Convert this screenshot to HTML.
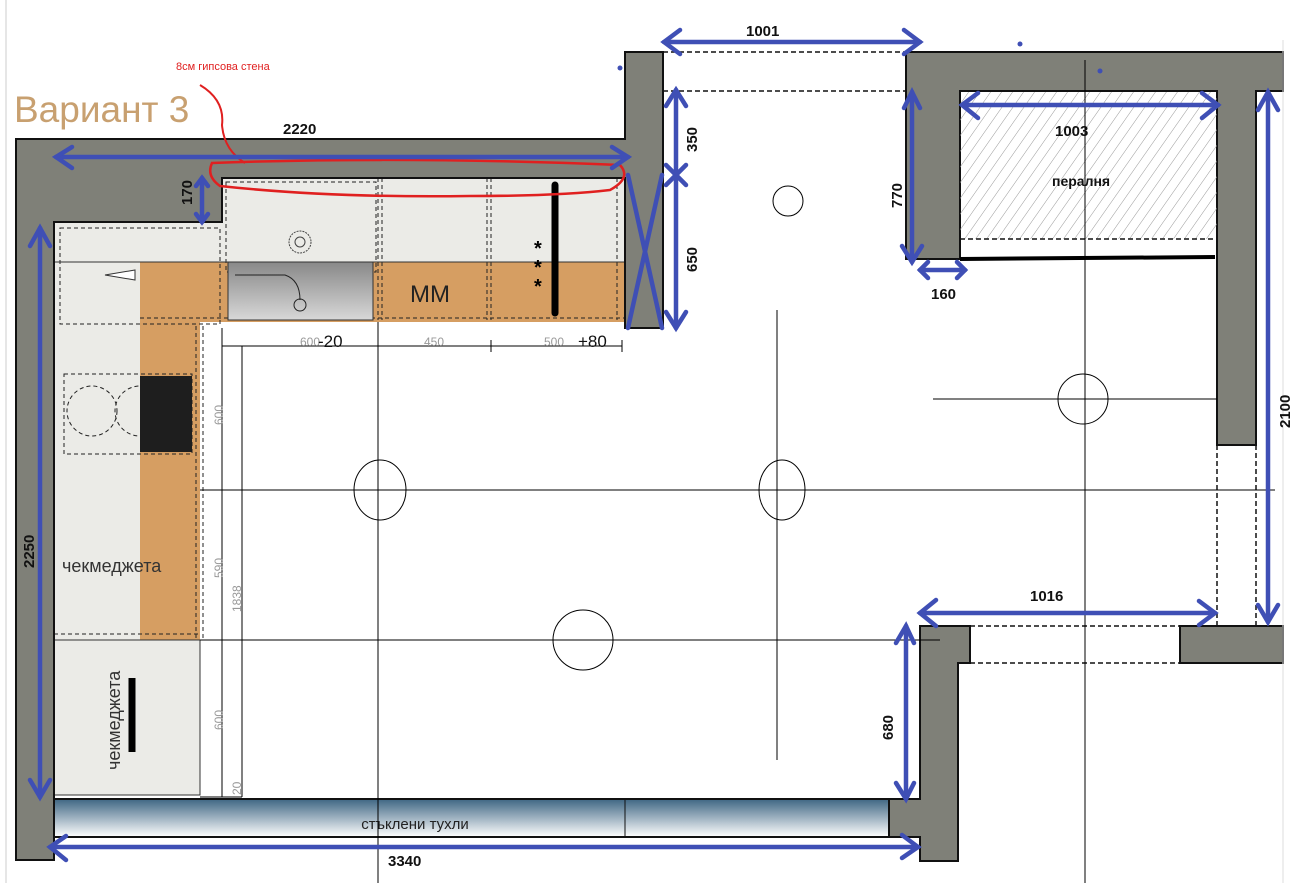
<!DOCTYPE html>
<html><head><meta charset="utf-8"><style>
body{margin:0;background:#fff;width:1295px;height:883px;overflow:hidden}
svg{display:block}
text{font-family:"Liberation Sans","DejaVu Sans",sans-serif}
</style></head><body>
<svg width="1295" height="883" viewBox="0 0 1295 883" xmlns="http://www.w3.org/2000/svg">
<defs>
<pattern id="h" width="9" height="9" patternUnits="userSpaceOnUse" patternTransform="rotate(35)"><line x1="0" y1="0" x2="0" y2="9" stroke="#999" stroke-width="1"/></pattern>
<linearGradient id="g" x1="0" y1="0" x2="0" y2="1"><stop offset="0" stop-color="#3e6683"/><stop offset="1" stop-color="#ffffff"/></linearGradient>
<linearGradient id="s" x1="0" y1="0" x2="0" y2="1"><stop offset="0" stop-color="#888"/><stop offset="1" stop-color="#d8d8d8"/></linearGradient>
</defs>
<line x1="6" y1="0" x2="6" y2="883" stroke="#ccc"/>
<rect x="222" y="178" width="403" height="84" fill="#ebebe7"/>
<rect x="54" y="222" width="168" height="40" fill="#ebebe7"/>
<rect x="54" y="262" width="86" height="378" fill="#ebebe7"/>
<rect x="140" y="262" width="485" height="60" fill="#d69e62"/>
<rect x="140" y="322" width="60" height="318" fill="#d69e62"/>
<rect x="54" y="640" width="146" height="155" fill="#ebebe7" stroke="#333" stroke-width="1"/>
<g fill="none" stroke="#222" stroke-width="1" stroke-dasharray="4,3">
<rect x="60" y="228" width="160" height="96"/><rect x="226" y="182" width="150" height="90"/>
<line x1="378" y1="178" x2="378" y2="320"/><line x1="382" y1="178" x2="382" y2="320"/>
<line x1="487" y1="178" x2="487" y2="320"/><line x1="491" y1="178" x2="491" y2="320"/>
<line x1="617" y1="178" x2="617" y2="320"/><line x1="140" y1="318" x2="625" y2="318"/>
<line x1="196" y1="326" x2="196" y2="640"/><line x1="203" y1="326" x2="203" y2="640"/>
<line x1="54" y1="634" x2="200" y2="634"/>
<rect x="64" y="374" width="128" height="80"/>
<circle cx="92" cy="411" r="25"/><circle cx="140" cy="411" r="25"/>
</g>
<line x1="54" y1="262" x2="625" y2="262" stroke="#333"/>
<line x1="54" y1="640" x2="222" y2="640" stroke="#333"/>
<rect x="228" y="262" width="145" height="58" fill="url(#s)" stroke="#333"/>
<path d="M235 275 H285 Q300 280 300 300" fill="none" stroke="#222"/><circle cx="300" cy="305" r="6" fill="none" stroke="#222"/>
<circle cx="300" cy="242" r="11" fill="none" stroke="#444" stroke-dasharray="2,1"/><circle cx="300" cy="242" r="5" fill="none" stroke="#444"/>
<rect x="140" y="376" width="52" height="76" fill="#1e1e1e"/>
<path d="M105 275 L135 270 L135 280 Z" fill="#fff" stroke="#333"/>
<g fill="#7f8078" stroke="#111" stroke-width="2">
<path d="M16 139 H625 V52 H663 V328 H625 V178 H222 V222 H54 V860 H16 Z"/>
<path d="M906 52 H1283 V91 H1256 V445 H1217 V91 H960 V259 H906 Z"/>
<path d="M920 626 H970 V663 H958 V861 H920 V837 H889 V799 H920 Z"/>
<rect x="1180" y="626" width="103" height="37"/>
</g>
<rect x="960" y="92" width="257" height="147" fill="url(#h)"/>
<g stroke="#111" stroke-width="1.5" stroke-dasharray="5,3" fill="none">
<line x1="663" y1="52" x2="906" y2="52"/><line x1="663" y1="91" x2="906" y2="91"/>
<line x1="960" y1="239" x2="1217" y2="239"/>
<line x1="970" y1="626" x2="1180" y2="626"/><line x1="970" y1="663" x2="1180" y2="663"/>
<line x1="1217" y1="445" x2="1217" y2="626"/><line x1="1256" y1="445" x2="1256" y2="626"/>
<line x1="625" y1="799" x2="889" y2="799"/><line x1="625" y1="837" x2="889" y2="837"/>
</g>
<line x1="960" y1="259" x2="1215" y2="257" stroke="#000" stroke-width="4"/>
<line x1="1283" y1="40" x2="1283" y2="883" stroke="#ddd"/>
<rect x="54" y="799" width="835" height="38" fill="url(#g)" stroke="#111" stroke-width="2"/>
<line x1="625" y1="799" x2="625" y2="837" stroke="#111"/>
<text x="415" y="829" font-size="15" text-anchor="middle" fill="#222">стъклени тухли</text>
<g stroke="#000" stroke-width="1" fill="none">
<line x1="378" y1="322" x2="378" y2="883"/><line x1="777" y1="310" x2="777" y2="760"/>
<line x1="1085" y1="60" x2="1085" y2="883"/>
<line x1="200" y1="490" x2="1275" y2="490"/><line x1="933" y1="399" x2="1217" y2="399"/>
<line x1="200" y1="640" x2="940" y2="640"/>
<ellipse cx="380" cy="490" rx="26" ry="30"/><ellipse cx="782" cy="490" rx="23" ry="30"/>
<ellipse cx="583" cy="640" rx="30" ry="30"/><ellipse cx="1083" cy="399" rx="25" ry="25"/>
<circle cx="788" cy="201" r="15"/>
<line x1="222" y1="346" x2="622" y2="346"/>
<line x1="222" y1="340" x2="222" y2="352"/><line x1="378" y1="340" x2="378" y2="352"/><line x1="491" y1="340" x2="491" y2="352"/><line x1="622" y1="340" x2="622" y2="352"/>
<line x1="222" y1="328" x2="222" y2="797"/><line x1="242" y1="346" x2="242" y2="797"/>
<line x1="200" y1="797" x2="242" y2="797"/>
</g>
<g font-size="12" fill="#999">
<text x="300" y="346">600</text><text x="424" y="346">450</text><text x="544" y="346">500</text>
<text transform="translate(223,425) rotate(-90)">600</text>
<text transform="translate(223,578) rotate(-90)">590</text>
<text transform="translate(241,612) rotate(-90)">1838</text>
<text transform="translate(223,730) rotate(-90)">600</text>
<text transform="translate(241,795) rotate(-90)">20</text>
</g>
<text x="318" y="347" font-size="17" fill="#111">-20</text>
<text x="578" y="347" font-size="17" fill="#111">+80</text>
<text x="410" y="302" font-size="24" fill="#222">MM</text>
<text x="62" y="572" font-size="18" fill="#333">чекмеджета</text>
<text transform="translate(120,770) rotate(-90)" font-size="18" fill="#333">чекмеджета</text>
<line x1="555" y1="185" x2="555" y2="313" stroke="#000" stroke-width="7" stroke-linecap="round"/>
<line x1="132" y1="678" x2="132" y2="752" stroke="#000" stroke-width="7"/>
<g font-size="20" font-weight="bold" fill="#000"><text x="534" y="255">*</text><text x="534" y="274">*</text><text x="534" y="293">*</text></g>
<text x="176" y="70" font-size="11" fill="#e02020">8см гипсова стена</text>
<path d="M200 85 Q225 100 222 125 Q224 150 245 163" fill="none" stroke="#e02020" stroke-width="2"/>
<path d="M212 163 Q400 156 620 165 Q632 178 610 190 Q560 196 470 196 Q330 198 220 186 Q206 176 212 163 Z" fill="none" stroke="#e02020" stroke-width="2.5"/>
<text x="14" y="122" font-size="37" fill="#c8a070">Вариант 3</text>
<g stroke="#3f4fb5" stroke-width="4.5" fill="none" stroke-linecap="round">
<line x1="56" y1="157" x2="628" y2="157"/><path d="M72 147 L56 157 L72 168 M612 147 L628 157 L612 168"/>
<line x1="202" y1="178" x2="202" y2="222"/><path d="M196 186 L202 178 L208 186 M196 214 L202 222 L208 214"/>
<line x1="40" y1="228" x2="40" y2="797"/><path d="M30 246 L40 228 L50 246 M30 780 L40 797 L50 780"/>
<line x1="50" y1="847" x2="918" y2="847"/><path d="M66 836 L50 847 L66 860 M902 835 L918 847 L902 858"/>
<line x1="664" y1="42" x2="920" y2="42"/><path d="M680 30 L664 42 L680 54 M904 30 L920 42 L904 54"/>
<line x1="676" y1="90" x2="676" y2="328"/><path d="M666 106 L676 90 L686 106 M666 312 L676 328 L686 312 M666 165 L686 185 M666 185 L686 165"/>
<path d="M628 175 L662 328 M662 175 L628 328"/>
<line x1="962" y1="105" x2="1218" y2="105"/><path d="M978 93 L962 105 L978 118 M1202 93 L1218 105 L1202 118"/>
<line x1="912" y1="92" x2="912" y2="262"/><path d="M904 108 L912 92 L920 108 M902 246 L912 262 L922 246"/>
<line x1="920" y1="270" x2="965" y2="270"/><path d="M928 262 L920 270 L928 278 M957 262 L965 270 L957 278"/>
<line x1="1268" y1="92" x2="1268" y2="622"/><path d="M1258 110 L1268 92 L1278 110 M1258 605 L1268 622 L1278 605"/>
<line x1="920" y1="613" x2="1215" y2="613"/><path d="M936 600 L920 613 L936 626 M1199 601 L1215 613 L1199 625"/>
<line x1="906" y1="626" x2="906" y2="799"/><path d="M896 643 L906 626 L914 643 M896 783 L906 799 L914 783"/>
</g>
<g fill="#3f4fb5"><circle cx="620" cy="68" r="2.5"/><circle cx="1020" cy="44" r="2.5"/><circle cx="1100" cy="71" r="2.5"/></g>
<g font-size="15" font-weight="bold" fill="#111">
<text x="283" y="134">2220</text><text x="746" y="36">1001</text><text x="1055" y="136">1003</text>
<text x="931" y="299">160</text><text x="1030" y="601">1016</text><text x="388" y="866">3340</text>
<text x="1052" y="186" font-size="14">пералня</text>
<text transform="translate(192,205) rotate(-90)">170</text>
<text transform="translate(34,568) rotate(-90)">2250</text>
<text transform="translate(697,152) rotate(-90)">350</text>
<text transform="translate(697,272) rotate(-90)">650</text>
<text transform="translate(902,208) rotate(-90)">770</text>
<text transform="translate(1290,428) rotate(-90)">2100</text>
<text transform="translate(893,740) rotate(-90)">680</text>
</g>
</svg>
</body></html>
